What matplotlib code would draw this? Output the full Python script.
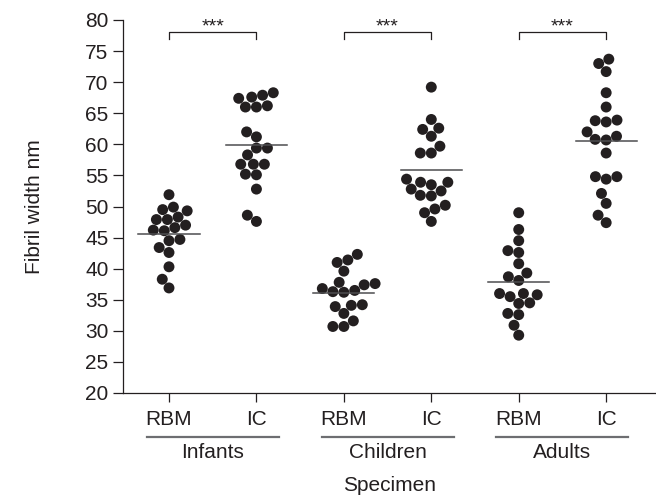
import numpy as np
import matplotlib.pyplot as plt
import matplotlib.transforms as mtransforms

plt.rcParams['font.family'] = ['Liberation Sans', 'DejaVu Sans']

TEXT = "#231f20"

groups = ["Infants", "Children", "Adults"]
specimens = ["RBM", "IC"]

# fibril widths (nm)
infants_rbm = [51.9, 49.9, 49.3, 49.5, 47.9, 47.9, 48.3, 47.0, 46.6, 46.2,
               46.1, 44.7, 44.5, 43.4, 42.6, 40.3, 38.3, 36.9]
infants_ic = [67.4, 67.6, 67.9, 68.3, 66.0, 66.0, 66.2, 61.2, 62.0, 59.4,
              59.4, 58.3, 56.8, 56.8, 56.8, 55.2, 55.1, 52.8, 48.6, 47.6]
children_rbm = [42.3, 41.0, 41.4, 39.6, 37.8, 37.4, 37.6, 36.8, 36.5, 36.3,
                36.2, 34.1, 33.9, 34.2, 32.8, 31.6, 30.7, 30.7]
children_ic = [69.2, 64.0, 62.4, 62.6, 61.3, 59.7, 58.6, 58.6, 54.4, 53.9,
               53.9, 53.5, 52.8, 52.5, 51.8, 51.7, 50.2, 49.6, 49.0, 47.6]
adults_rbm = [49.0, 46.3, 44.5, 42.9, 42.6, 40.8, 39.3, 38.7, 38.1, 36.0,
              35.5, 36.0, 35.8, 34.5, 34.4, 32.8, 32.6, 30.9, 29.3]
adults_ic = [73.0, 71.7, 73.7, 68.3, 66.0, 63.8, 63.6, 63.9, 62.0, 61.3,
             60.8, 60.7, 58.6, 54.8, 54.4, 54.8, 52.1, 50.5, 48.6, 47.4]

series = [infants_rbm, infants_ic, children_rbm, children_ic, adults_rbm, adults_ic]
sig_labels = ["***", "***", "***"]


def swarm(vals_px, d):
    # simple beeswarm: offsets (in px) so that markers don't overlap
    order = np.argsort(vals_px)
    offs = np.zeros(len(vals_px))
    placed = []
    for i in order:
        y = vals_px[i]
        cands = [0.0]
        for py, px in placed:
            dy = abs(py - y)
            if dy < d:
                dx = np.sqrt(d * d - dy * dy)
                cands += [px + dx, px - dx]
        cands.sort(key=lambda c: (abs(c), c))
        for c in cands:
            if all((c - px) ** 2 + (y - py) ** 2 >= d * d - 1e-6 for py, px in placed):
                offs[i] = c
                break
        placed.append((y, offs[i]))
    return offs


fig = plt.figure(figsize=(6.56, 4.99), dpi=100)
ax = fig.add_axes([123 / 656, 106 / 499, 533 / 656, 373 / 499])
ax.set_xlim(0.474, 6.57)
ax.set_ylim(20, 80)

# pixel scales for the swarm layout
bbox = ax.get_window_extent()
px_x = bbox.width / (6.57 - 0.474)
px_y = bbox.height / 60.0

positions = np.arange(1, len(series) + 1)
for pos, vals in zip(positions, series):
    vals = np.array(vals)
    offs = swarm(vals * px_y, 11.0) / px_x
    ax.scatter(pos + offs, vals, s=62, color=TEXT, edgecolors="none", zorder=3)
    m = np.mean(vals)
    ax.plot([pos - 0.35, pos + 0.35], [m, m], color="#4d4d4f", lw=1.1, zorder=4)

# significance brackets
for k, lab in enumerate(sig_labels):
    x1, x2 = positions[2 * k], positions[2 * k + 1]
    ax.plot([x1, x1, x2, x2], [76.9, 78, 78, 76.9], color=TEXT, lw=0.9,
            clip_on=False)
    ax.text((x1 + x2) / 2, 78.1, lab, ha="center", va="baseline",
            fontsize=14, color=TEXT, clip_on=False)

ax.set_yticks(np.arange(20, 81, 5))
ax.set_xticks(positions, specimens * len(groups))
ax.tick_params(axis="y", direction="out", length=7.5, width=0.9,
               labelsize=15, pad=3, colors=TEXT)
ax.tick_params(axis="x", direction="out", length=6.5, width=0.9,
               labelsize=15, pad=6, colors=TEXT)
for s in ["top", "right"]:
    ax.spines[s].set_visible(False)
for s in ["left", "bottom"]:
    ax.spines[s].set_linewidth(0.9)
    ax.spines[s].set_color(TEXT)

# group underlines and names below the tick labels
trans = mtransforms.blended_transform_factory(ax.transData, ax.transAxes)
for k, g in enumerate(groups):
    c = (positions[2 * k] + positions[2 * k + 1]) / 2
    ax.plot([c - 0.755, c + 0.755], [-0.117, -0.117], transform=trans,
            color="#6d6e71", lw=1.6, clip_on=False)
    ax.text(c, -0.16, g, transform=trans, ha="center", va="center",
            fontsize=15, color=TEXT)

ax.text(0.5, -0.247, "Specimen", transform=ax.transAxes, ha="center",
        va="center", fontsize=15, color=TEXT)
fig.text(35 / 656, 1 - 206.5 / 499, "Fibril width nm", rotation=90,
         ha="center", va="center", fontsize=15, color=TEXT)

fig.savefig("out.png", dpi=100)
